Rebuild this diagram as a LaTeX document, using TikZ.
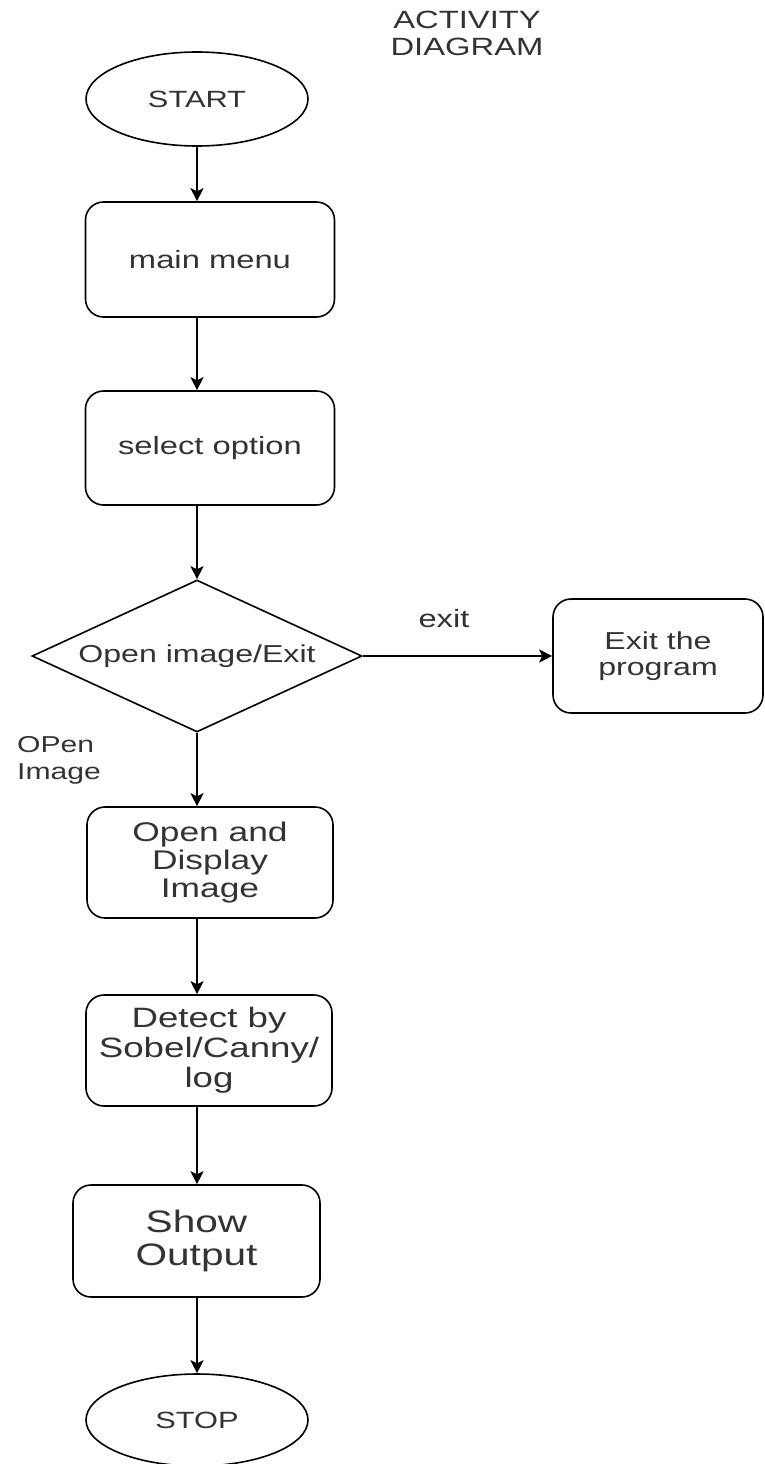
\documentclass[tikz,border=0pt]{standalone}
\usepackage{fontspec}
\setmainfont{Liberation Sans}[FakeStretch=1.31]
\usetikzlibrary{positioning,shapes.geometric,arrows.meta}
\newcommand{\fsz}[2]{\fontsize{#1}{#2}\selectfont}

\begin{document}
\begin{tikzpicture}[x=1pt,y=-1pt,
    terminal/.style={draw, ellipse, line width=1.6pt, minimum width=222pt, minimum height=94pt, text=black!80},
    actbox/.style={draw, rounded corners=18pt, line width=1.6pt, align=center, text=black!80},
    decision/.style={draw, diamond, aspect=2.17, line width=1.6pt, minimum width=330pt, minimum height=152pt, inner sep=0pt, text=black!80},
    flow/.style={-{Stealth[length=13pt,width=13pt,inset=3pt]}, line width=1.6pt},
    lbl/.style={text=black!80, inner sep=0pt}]
  \useasboundingbox (0,0) rectangle (765,1464);

  % title
  \node[lbl, align=center, font=\fsz{25}{27}] (title) at (467,33) {ACTIVITY\\DIAGRAM};

  % main flow
  \coordinate (spine) at (197,0);
  \node[terminal, font=\fsz{23.5}{25}] (start) at (197,99) {START};
  \node[actbox, minimum width=249pt, minimum height=115pt, font=\fsz{25}{27}] (menu) at (210,259.5) {main menu};
  \node[actbox, minimum width=249pt, minimum height=114pt, font=\fsz{25}{27}] (select) at (210,448) {select option};
  \node[decision, font=\fsz{24.5}{26}] (choice) at (197,656) {Open image/Exit};
  \node[actbox, minimum width=246pt, minimum height=111pt, font=\fsz{27}{28}] (display) at (210,862.5) {Open and\\Display\\Image};
  \node[actbox, minimum width=246pt, minimum height=111pt, font=\fsz{28}{30}] (detect) at (209,1050.5) {Detect by\\Sobel/Canny/\\log};
  \node[actbox, minimum width=247pt, minimum height=112pt, font=\fsz{31}{33}] (show) at (196.5,1241) {Show\\Output};
  \node[terminal, minimum height=92pt, font=\fsz{23.5}{25}] (stop) at (197,1420) {STOP};

  % exit branch
  \node[actbox, minimum width=210pt, minimum height=114pt, font=\fsz{24.5}{26}] (quit) at (658,656) {Exit the\\program};

  % guard labels
  \node[lbl, font=\fsz{25}{27}] (exitlbl) at (444,619) {exit};
  \node[lbl, align=left, anchor=north west, font=\fsz{23}{27}] (openlbl) at (17,736) {OPen\\Image};

  % connectors
  \draw[flow] (start.south) -- (menu.north -| spine);
  \draw[flow] (menu.south -| spine) -- (select.north -| spine);
  \draw[flow] (select.south -| spine) -- (choice.north);
  \draw[flow] (choice.east) -- (quit.west);
  \draw[flow] (choice.south) -- (display.north -| spine);
  \draw[flow] (display.south -| spine) -- (detect.north -| spine);
  \draw[flow] (detect.south -| spine) -- (show.north -| spine);
  \draw[flow] (show.south -| spine) -- (stop.north);
\end{tikzpicture}
\end{document}
